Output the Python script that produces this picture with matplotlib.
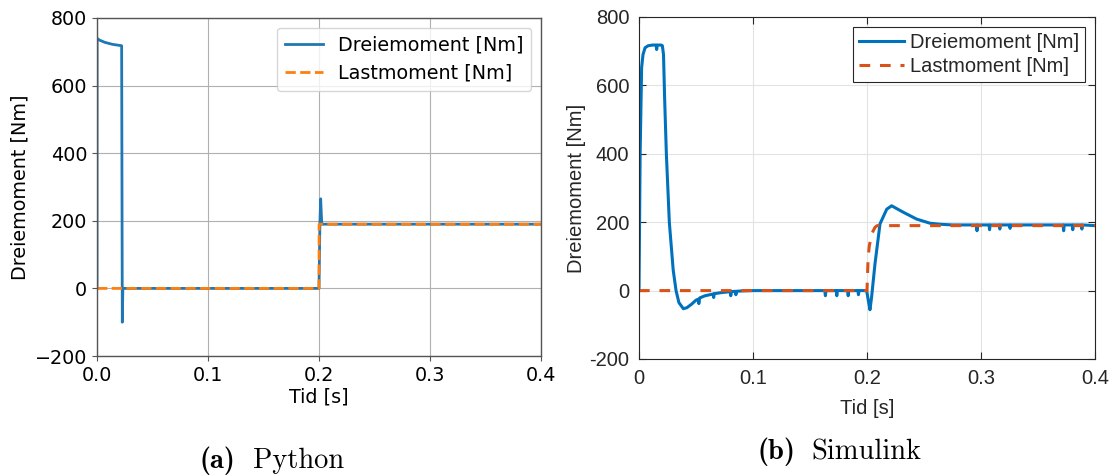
import matplotlib
matplotlib.use("Agg")
import os
import matplotlib.pyplot as plt
from matplotlib.font_manager import FontProperties
from matplotlib.ticker import FuncFormatter, MultipleLocator

# ---------------- data: Python simulation ----------------
py_t_drei = [0.0, 0.0001, 0.002, 0.007, 0.014, 0.0222, 0.0228, 0.0233, 0.2, 0.2008, 0.2015, 0.2025, 0.4]
py_drei = [0, 740, 735, 728, 722, 718, -100, 0, 0, 190, 265, 190, 190]
py_t_last = [0.0, 0.2, 0.2001, 0.4]
py_last = [0, 0, 190, 190]

# ---------------- data: Simulink ----------------
sim_t_drei = [0.0, 0.001, 0.0023, 0.0035, 0.0053, 0.008, 0.012, 0.015, 0.0155, 0.016, 0.0195, 0.0205,
              0.0215, 0.0225, 0.024, 0.0266, 0.030, 0.0325, 0.035, 0.0389, 0.042, 0.046, 0.050, 0.052,
              0.0525, 0.053, 0.0535, 0.058, 0.065, 0.0655, 0.066, 0.072, 0.080, 0.0805, 0.081, 0.0845,
              0.085, 0.0855, 0.09, 0.1, 0.163, 0.1635, 0.164, 0.173, 0.1735, 0.174, 0.183, 0.1835, 0.184,
              0.192, 0.1925, 0.193, 0.1997, 0.2012, 0.2026, 0.204, 0.207, 0.2114, 0.2173, 0.2216, 0.2319,
              0.2436, 0.2553, 0.264, 0.275, 0.296, 0.2965, 0.297, 0.307, 0.3075, 0.308, 0.316, 0.3165,
              0.317, 0.325, 0.3255, 0.326, 0.372, 0.3725, 0.373, 0.380, 0.3805, 0.381, 0.388, 0.3885,
              0.389, 0.4]
sim_drei = [0, 400, 652, 690, 710, 716, 718, 718, 705, 718, 718, 716,
            690, 560, 400, 200, 60, 0, -35, -53, -50, -40, -28, -25,
            -38, -25, -21, -15, -10, -20, -9, -6, -3, -15, -3, -2,
            -12, -2, -1, 0, 0, -15, 0, 0, -15, 0, 0, -15, 0,
            0, -12, 0, 0, -30, -56, -20, 78, 195, 238, 248, 229,
            209, 197, 194, 192, 192, 175, 192, 192, 178, 192, 192, 180,
            192, 192, 182, 192, 192, 175, 192, 192, 178, 192, 192, 180,
            192, 190]
sim_t_last = [0.0, 0.2, 0.2003, 0.201, 0.202, 0.204, 0.207, 0.209, 0.4]
sim_last = [0, 0, 30, 97, 130, 165, 185, 190, 190]

label_drei = "Dreiemoment [Nm]"
label_last = "Lastmoment [Nm]"
x_label = "Tid [s]"
y_label = "Dreiemoment [Nm]"
cap_a_tag, cap_a_txt = "(a)", "Python"
cap_b_tag, cap_b_txt = "(b)", "Simulink"

fig = plt.figure(figsize=(11.15, 4.76), dpi=100)

# ---------------- left (matplotlib style) ----------------
fs_l = 13.8
axl = fig.add_axes([97 / 1115, 1 - 356 / 476, 444 / 1115, 338 / 476])
axl.plot(py_t_drei, py_drei, color="tab:blue", lw=2, label=label_drei)
axl.plot(py_t_last, py_last, color="tab:orange", lw=2, ls="--", label=label_last)
axl.set_xlim(0, 0.4)
axl.set_ylim(-200, 800)
axl.xaxis.set_major_locator(MultipleLocator(0.1))
axl.yaxis.set_major_locator(MultipleLocator(200))
axl.grid(True, color="#b0b0b0", lw=0.8)
for s in axl.spines.values():
    s.set_color("#555555")
    s.set_linewidth(1.0)
axl.tick_params(labelsize=fs_l, color="#555555")
axl.set_xlabel(x_label, fontsize=fs_l, labelpad=2)
axl.set_ylabel(y_label, fontsize=fs_l)
axl.legend(loc="upper right", fontsize=fs_l)

# ---------------- right (MATLAB style) ----------------
fs_r = 14.5
mcol = "#262626"
axr = fig.add_axes([639 / 1115, 1 - 359 / 476, 456 / 1115, 342 / 476])
axr.plot(sim_t_drei, sim_drei, color="#0072BD", lw=2.2, label=label_drei)
axr.plot(sim_t_last, sim_last, color="#D95319", lw=2.2, ls=(0, (3.5, 3.2)), label=label_last)
axr.set_xlim(0, 0.4)
axr.set_ylim(-200, 800)
axr.xaxis.set_major_locator(MultipleLocator(0.1))
axr.yaxis.set_major_locator(MultipleLocator(200))
axr.xaxis.set_major_formatter(FuncFormatter(lambda v, p: "%g" % round(v, 3)))
axr.yaxis.set_major_formatter(FuncFormatter(lambda v, p: "%d" % round(v)))
axr.grid(True, color="#e3e3e3", lw=0.8)
axr.set_axisbelow(True)
for s in axr.spines.values():
    s.set_color(mcol)
    s.set_linewidth(0.8)
axr.tick_params(direction="in", top=True, right=True, length=5, width=0.8,
                color=mcol, labelcolor=mcol, labelsize=fs_r, pad=7)
for lab in axr.get_xticklabels() + axr.get_yticklabels():
    lab.set_family("Liberation Sans")
axr.set_xlabel(x_label, fontsize=fs_r, family="Liberation Sans", color=mcol, labelpad=8)
axr.set_ylabel(y_label, fontsize=fs_r, family="Liberation Sans", color=mcol, labelpad=2)
leg = axr.legend(loc="upper right", prop={"family": "Liberation Sans", "size": fs_r},
                 fancybox=False, framealpha=1, edgecolor=mcol, handlelength=2.2,
                 handletextpad=0.3, borderaxespad=0.5, borderpad=0.3, labelspacing=0.25)
leg.get_frame().set_linewidth(0.8)
for t in leg.get_texts():
    t.set_color(mcol)

# ---------------- captions (Computer Modern) ----------------
fdir = os.path.join(matplotlib.get_data_path(), "fonts", "ttf")
fp_bold = FontProperties(fname=os.path.join(fdir, "cmb10.ttf"), size=20.5)
fp_reg = FontProperties(fname=os.path.join(fdir, "cmr10.ttf"), size=20.5)
fig.text(199 / 1115, 1 - 468 / 476, cap_a_tag, ha="left", va="baseline", fontproperties=fp_bold)
fig.text(253 / 1115, 1 - 468 / 476, cap_a_txt, ha="left", va="baseline", fontproperties=fp_reg)
fig.text(757 / 1115, 1 - 459 / 476, cap_b_tag, ha="left", va="baseline", fontproperties=fp_bold)
fig.text(811 / 1115, 1 - 459 / 476, cap_b_txt, ha="left", va="baseline", fontproperties=fp_reg)

fig.savefig("out.png", dpi=100)
